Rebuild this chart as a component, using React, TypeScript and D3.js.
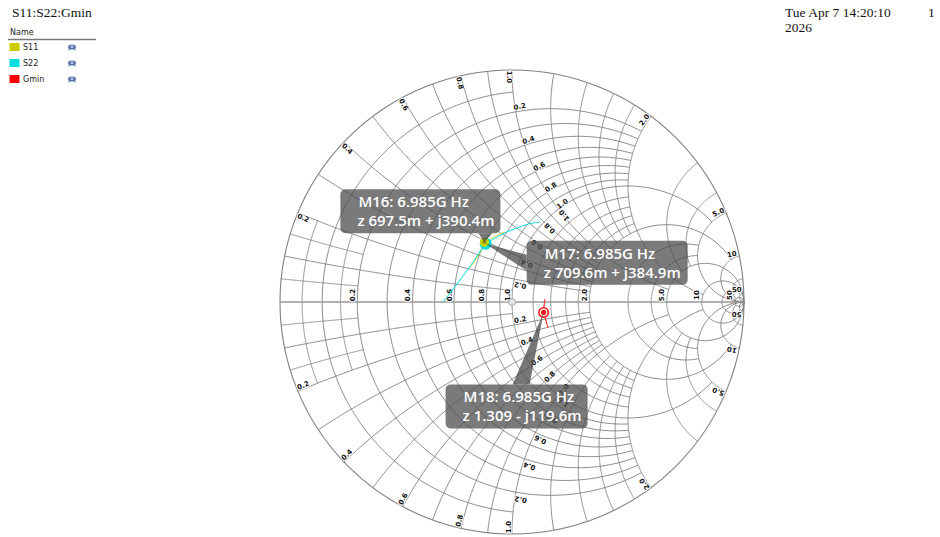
import * as d3 from "d3";

// ---- chart data ----
const majorVals = [0.2, 0.4, 0.6, 0.8, 1.0, 2.0, 5.0, 10, 50];
const majorLabels = ["0.2", "0.4", "0.6", "0.8", "1.0", "2.0", "5.0", "10", "50"];
// grid circles / arcs: value and how far they run along the other coordinate
const gridVals = [0.05, 0.1, 0.15, 0.2, 0.3, 0.4, 0.5, 0.6, 0.7, 0.8, 0.9, 1.0, 1.2, 1.4, 1.6, 1.8, 2.0, 3, 4, 5, 10, 20, 50];
const gridLimits = [0.2, 1, 0.2, 2, 2, 2, 2, 2, 2, 2, 2, 5, 2, 2, 2, 2, 10, 5, 5, Infinity, Infinity, 50, Infinity];
const innerVals = [0.2, 0.4, 0.6, 0.8, 1.0];
const innerLabels = ["0.2", "0.4", "0.6", "0.8", "1.0"];

// traces, reflection coefficient (re, im)
const s11Re = [-0.181, -0.155, -0.134, -0.116, -0.091, -0.06, -0.03];
const s11Im = [0.147, 0.185, 0.22, 0.25, 0.272, 0.289, 0.302];
const s22Re = [-0.297, -0.267, -0.237, -0.211, -0.168, -0.116, -0.065, -0.022, 0.022, 0.069, 0.121];
const s22Im = [0.0, 0.039, 0.078, 0.112, 0.172, 0.246, 0.28, 0.302, 0.319, 0.336, 0.345];
const gminRe = [0.142, 0.138, 0.138, 0.147, 0.155];
const gminIm = [0.013, -0.017, -0.052, -0.082, -0.112];

const seriesNames = ["S11", "S22", "Gmin"];
const seriesColors = ["#cccc00", "#00dede", "#ff0000"];

const markerNames = ["M16", "M17", "M18"];
const markerFreq = ["6.985G Hz", "6.985G Hz", "6.985G Hz"];
const markerR = [0.6975, 0.7096, 1.309];
const markerX = [0.3904, 0.3849, -0.1196];
const markerZ = ["z 697.5m + j390.4m", "z 709.6m + j384.9m", "z 1.309 - j119.6m"];

// ---- layout ----
const W = 940, H = 537;
const CX = 512, CY = 302, RAD = 232;
const xS = d3.scaleLinear().domain([-1, 1]).range([CX - RAD, CX + RAD]);
const yS = d3.scaleLinear().domain([-1, 1]).range([CY + RAD, CY - RAD]);

type Pt = [number, number];
const gamma = (r: number, x: number): Pt => {
  const den = (r + 1) * (r + 1) + x * x;
  return [((r - 1) * (r + 1) + x * x) / den, (2 * x) / den];
};
const dGamma = (r: number, x: number): Pt => {
  const a = (r + 1) * (r + 1) - x * x;
  const b = 2 * x * (r + 1);
  const m = a * a + b * b;
  return [(2 * a) / m, (-2 * b) / m];
};
const px = (g: Pt): Pt => [xS(g[0]), yS(g[1])];
const line = d3.line<Pt>().x(d => xS(d[0])).y(d => yS(d[1]));
const curve = d3.line<Pt>().x(d => xS(d[0])).y(d => yS(d[1])).curve(d3.curveCatmullRom);

const tmax = (lim: number) => (isFinite(lim) ? Math.atan(lim) : Math.PI / 2 - 1e-4);
const rPath = (r: number, lim: number) => {
  const t = tmax(lim);
  const pts = d3.range(0, 301).map(i => gamma(r, Math.tan(-t + (2 * t * i) / 300)));
  return line(pts) as string;
};
const xPath = (x: number, lim: number) => {
  const t = tmax(lim);
  const pts = d3.range(0, 201).map(i => gamma(Math.tan((t * i) / 200), x));
  return line(pts) as string;
};

const deg = (a: number) => (a * 180) / Math.PI;

type Lab = { t: string; x: number; y: number; rot: number };
const labels: Lab[] = [];
majorVals.forEach((v, i) => {
  // axis resistance labels
  labels.push({ t: majorLabels[i], x: xS((v - 1) / (v + 1)) - 4.5, y: CY - 7, rot: -90 });
  // outer reactance labels
  [1, -1].forEach(s => {
    const P = px(gamma(0, s * v));
    const dx = CX - P[0], dy = CY - P[1];
    const n = Math.hypot(dx, dy);
    const d: Pt = [dx / n, dy / n];
    const perp: Pt = s > 0 ? [-d[1], d[0]] : [d[1], -d[0]];
    let rot = deg(Math.atan2(d[1], d[0]));
    if (d[0] < -1e-6) rot += 180;
    if (s < 0 && v > 1) rot += 180;
    labels.push({ t: majorLabels[i], x: P[0] + 7 * d[0] + 3 * perp[0], y: P[1] + 7 * d[1] + 3 * perp[1], rot });
  });
});
innerVals.forEach((v, i) => {
  // resistance labels along x = +-1
  const dz = dGamma(v, 1);
  const ru = deg(Math.atan2(-dz[0], -dz[1]));
  const Pu = px(gamma(v, 1));
  labels.push({ t: innerLabels[i], x: Pu[0] + 4, y: Pu[1] - 5, rot: ru });
  const Pl = px(gamma(v, -1));
  labels.push({ t: innerLabels[i], x: Pl[0] + 5, y: Pl[1] + 7, rot: 180 - ru });
  // reactance labels along r = 1
  const dl = dGamma(1, -v);
  const rl = deg(Math.atan2(-dl[1], dl[0]));
  const Ql = px(gamma(1, -v));
  labels.push({ t: innerLabels[i], x: Ql[0] + 6, y: Ql[1] - 5, rot: rl });
  const Qu = px(gamma(1, v));
  labels.push({ t: innerLabels[i], x: Qu[0] + 6, y: Qu[1] + 6, rot: 180 - rl });
});

const zip = (a: number[], b: number[]): Pt[] => a.map((v, i) => [v, b[i]]);
const traces = [zip(s11Re, s11Im), zip(s22Re, s22Im), zip(gminRe, gminIm)];

// callout offsets relative to each marker
const boxDx = [-144, 41, -98];
const boxDy = [-53, -3, 72];
const boxW = [160, 161, 142];
const BOX_H = 44;

function Eye({ x, y }: { x: number; y: number }) {
  return (
    <g transform={`translate(${x},${y})`} fill="#5b74a8">
      <ellipse cx={0} cy={0} rx={4} ry={2.6} />
      <circle cx={0} cy={-0.3} r={1.3} fill="#c8d2ea" />
      <rect x={-3.5} y={2.2} width={1} height={1.6} />
      <rect x={2.5} y={2.2} width={1} height={1.6} />
    </g>
  );
}

export default function App() {
  const gridColor = "#7f7f7f";
  const mk = markerR.map((r, i) => px(gamma(r, markerX[i])));
  return (
    <svg width={W} height={H} style={{ position: "absolute", left: 0, top: 0, background: "#fff" }}>
      <text x={12} y={17} fontFamily="Liberation Serif, serif" fontSize={13.5} fill="#111">S11:S22:Gmin</text>
      <text x={785} y={17} fontFamily="Liberation Serif, serif" fontSize={13.5} fill="#111">Tue Apr 7 14:20:10</text>
      <text x={785} y={32} fontFamily="Liberation Serif, serif" fontSize={13.5} fill="#111">2026</text>
      <text x={928} y={17} fontFamily="Liberation Serif, serif" fontSize={13.5} fill="#111">1</text>

      {/* legend */}
      <text x={10} y={35} fontFamily="DejaVu Sans, sans-serif" fontSize={8} fill="#222">Name</text>
      <line x1={8} x2={96} y1={39.5} y2={39.5} stroke="#777" strokeWidth={1.6} />
      {seriesNames.map((n, i) => (
        <g key={n}>
          <rect x={9.5} y={43 + i * 16} width={10} height={8} fill={seriesColors[i]} />
          <text x={23} y={50 + i * 16} fontFamily="DejaVu Sans, sans-serif" fontSize={8} fill="#222">{n}</text>
          <Eye x={72} y={47 + i * 16} />
        </g>
      ))}

      {/* grid */}
      <g fill="none" stroke={gridColor} strokeWidth={0.9}>
        {gridVals.map((v, i) => (
          <g key={"g" + v}>
            <path d={rPath(v, gridLimits[i])} />
            <path d={xPath(v, gridLimits[i])} />
            <path d={xPath(-v, gridLimits[i])} />
          </g>
        ))}
        <circle cx={CX} cy={CY} r={RAD} strokeWidth={1.1} />
      </g>
      <line x1={xS(-1)} x2={xS(1)} y1={CY} y2={CY} stroke="#999" strokeWidth={1.6} />

      {/* grid labels */}
      <g fontFamily="DejaVu Sans, sans-serif" fontSize={7} fontWeight="bold" fill="#111"
        textAnchor="middle" dominantBaseline="central"
        stroke="#fff" strokeWidth={2} paintOrder="stroke" strokeLinejoin="round">
        {labels.map((l, i) => (
          <text key={i} transform={`translate(${l.x},${l.y}) rotate(${l.rot})`}>{l.t}</text>
        ))}
      </g>

      {/* traces */}
      {traces.map((t, i) => (
        <path key={i} d={curve(t) as string} fill="none" stroke={seriesColors[i]} strokeWidth={1} opacity={i === 0 ? 0.75 : 1} />
      ))}

      {/* center ring */}
      <circle cx={CX} cy={CY} r={3.5} fill="#e2e2e2" stroke="#aaa" strokeWidth={1} />

      {/* markers */}
      <circle cx={mk[1][0]} cy={mk[1][1]} r={6} fill="#00dede" />
      <circle cx={mk[0][0]} cy={mk[0][1]} r={4.6} fill="#c9d400" />
      <circle cx={mk[0][0]} cy={mk[0][1]} r={2} fill="#8fa000" />
      <circle cx={mk[2][0]} cy={mk[2][1]} r={5.5} fill="#ff1a1a" />
      <circle cx={mk[2][0]} cy={mk[2][1]} r={3.8} fill="#fff" />
      <circle cx={mk[2][0]} cy={mk[2][1]} r={2.6} fill="#ff1a1a" />

      {/* callouts */}
      {markerNames.map((n, i) => {
        const m = mk[i];
        const bx = m[0] + boxDx[i], by = m[1] + boxDy[i];
        let wedge = "";
        if (i === 0) wedge = `M${m[0]},${m[1]}L${bx + 138},${by + BOX_H}L${bx + 152},${by + BOX_H}Z`;
        if (i === 1) wedge = `M${m[0]},${m[1]}L${bx},${by + 14}L${bx},${by + 30}Z`;
        if (i === 2) wedge = `M${m[0]},${m[1]}L${bx + 67},${by}L${bx + 84},${by}Z`;
        return (
          <g key={n}>
            <path d={wedge} fill="#4a4a4a" opacity={0.75} />
            <rect x={bx} y={by} width={boxW[i]} height={BOX_H} rx={5} fill="#4e4e4e" opacity={0.75} />
            <text x={bx + 18} y={by + 18} fontFamily="Open Sans, sans-serif" fontWeight={600} fontSize={15} fill="#fff">{`${n}: ${markerFreq[i]}`}</text>
            <text x={bx + 17} y={by + 37} fontFamily="Open Sans, sans-serif" fontWeight={600} fontSize={15} fill="#fff">{markerZ[i]}</text>
          </g>
        );
      })}
    </svg>
  );
}
